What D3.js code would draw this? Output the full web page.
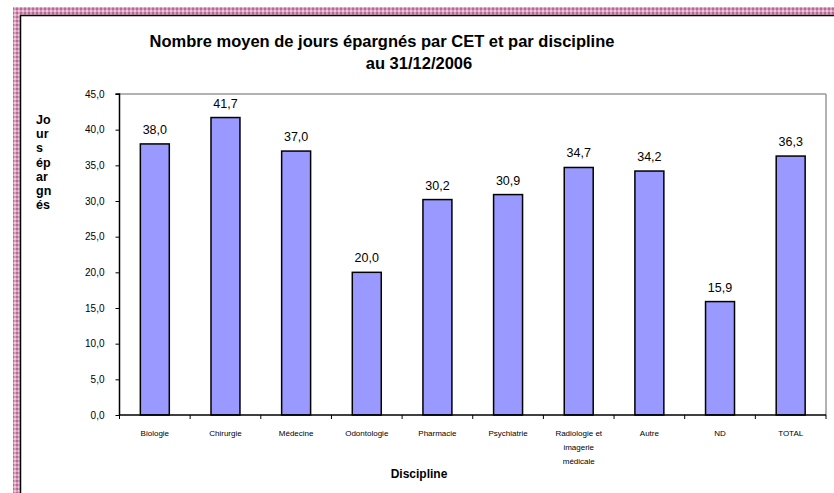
<!DOCTYPE html>
<html><head><meta charset="utf-8">
<script src="https://cdn.jsdelivr.net/npm/d3@7"></script>
<style>body{margin:0;background:#fff}svg{display:block;font-family:"Liberation Sans",Arial,sans-serif}</style>
</head><body>
<script>
const categories = ["Biologie","Chirurgie","Médecine","Odontologie","Pharmacie","Psychiatrie","Radiologie et\nimagerie\nmédicale","Autre","ND","TOTAL"];
const values = [38.0,41.7,37.0,20.0,30.2,30.9,34.7,34.2,15.9,36.3];
const yTicks = [0,5,10,15,20,25,30,35,40,45];
const titleLines = ["Nombre moyen de jours épargnés par CET et par discipline","au 31/12/2006"];
const yTitleLines = ["Jo","ur","s","ép","ar","gn","és"];
const xTitle = "Discipline";

const W = 834, H = 493;
const svg = d3.select("body").append("svg").attr("width", W).attr("height", H);

// decorative pink border pattern
const defs = svg.append("defs");
const pat = defs.append("pattern").attr("id","pk").attr("width",4).attr("height",4).attr("patternUnits","userSpaceOnUse");
pat.append("rect").attr("width",4).attr("height",4).attr("fill","#d99bbd");
pat.append("rect").attr("x",0).attr("y",0).attr("width",2).attr("height",2).attr("fill","#b86a96");
pat.append("rect").attr("x",2).attr("y",2).attr("width",2).attr("height",2).attr("fill","#ecc6da");
svg.append("rect").attr("x",13).attr("y",7).attr("width",W-13).attr("height",8).attr("fill","url(#pk)");
svg.append("rect").attr("x",13).attr("y",7).attr("width",7).attr("height",H-7).attr("fill","url(#pk)");
svg.append("line").attr("x1",20).attr("x2",W).attr("y1",15.5).attr("y2",15.5).attr("stroke","#000").attr("stroke-width",1.5);
svg.append("line").attr("x1",20.5).attr("x2",20.5).attr("y1",15).attr("y2",H).attr("stroke","#000").attr("stroke-width",1.5);

const x0 = 119.5, x1 = 826, yTop = 94, yBot = 415;
const x = d3.scaleBand().domain(categories).range([x0, x1]).paddingInner(0.59).paddingOuter(0.295);
const xb = d3.scaleBand().domain(categories).range([x0, x1]);
const y = d3.scaleLinear().domain([0,45]).range([yBot, yTop]);

// plot frame top/right gray
svg.append("line").attr("x1",x0).attr("x2",x1).attr("y1",yTop).attr("y2",yTop).attr("stroke","#999").attr("stroke-width",1.5);
svg.append("line").attr("x1",x1).attr("x2",x1).attr("y1",yTop).attr("y2",yBot).attr("stroke","#999").attr("stroke-width",1.5);

// bars
svg.selectAll("rect.bar").data(values).enter().append("rect")
  .attr("class","bar")
  .attr("x",(d,i)=>x(categories[i]))
  .attr("y",d=>y(d))
  .attr("width",x.bandwidth())
  .attr("height",d=>yBot-y(d))
  .attr("fill","#9999ff").attr("stroke","#000").attr("stroke-width",1.5);

// value labels
svg.selectAll("text.val").data(values).enter().append("text")
  .attr("x",(d,i)=>x(categories[i])+x.bandwidth()/2)
  .attr("y",d=>y(d)-10)
  .attr("text-anchor","middle").attr("font-size",12.5).attr("fill","#000")
  .text(d=>d.toFixed(1).replace(".",","));

// y axis
const yAxis = d3.axisLeft(y).tickValues(yTicks).tickSize(4).tickPadding(11).tickFormat(d=>d.toFixed(1).replace(".",","));
const gy = svg.append("g").attr("transform",`translate(${x0},0)`).call(yAxis);
gy.select(".domain").attr("stroke","#000").attr("stroke-width",1.5).attr("d",`M-4,${yTop}H0V${yBot}`);
gy.selectAll(".tick line").attr("stroke","#000");
gy.selectAll(".tick text").attr("font-size",10).attr("font-family","Liberation Sans, Arial, sans-serif").attr("fill","#000");

// x axis
const gx = svg.append("g").attr("transform",`translate(0,${yBot})`);
gx.append("line").attr("x1",x0).attr("x2",x1).attr("y1",0).attr("y2",0).attr("stroke","#000").attr("stroke-width",1.5);
const bounds = categories.map(c=>xb(c)).concat([x1]);
gx.selectAll("line.tk").data(bounds).enter().append("line")
  .attr("x1",d=>d).attr("x2",d=>d).attr("y1",0).attr("y2",4).attr("stroke","#000");
const xl = gx.selectAll("text.xl").data(categories).enter().append("text")
  .attr("text-anchor","middle").attr("font-size",8).attr("fill","#000")
  .attr("transform",c=>`translate(${xb(c)+xb.bandwidth()/2},21)`);
xl.each(function(c){
  const t = d3.select(this);
  c.split("\n").forEach((ln,i)=>t.append("tspan").attr("x",0).attr("y",i*14).text(ln));
});

// titles
svg.append("text").attr("x",382).attr("y",47).attr("text-anchor","middle").attr("font-size",16.5).attr("font-weight","bold").text(titleLines[0]);
svg.append("text").attr("x",419).attr("y",69).attr("text-anchor","middle").attr("font-size",16.5).attr("font-weight","bold").text(titleLines[1]);
svg.append("text").attr("x",419).attr("y",478).attr("text-anchor","middle").attr("font-size",12).attr("font-weight","bold").text(xTitle);
const yt = svg.append("text").attr("font-size",12.5).attr("font-weight","bold");
yTitleLines.forEach((ln,i)=>yt.append("tspan").attr("x",36).attr("y",124+i*14.2).text(ln));
</script>
</body></html>
